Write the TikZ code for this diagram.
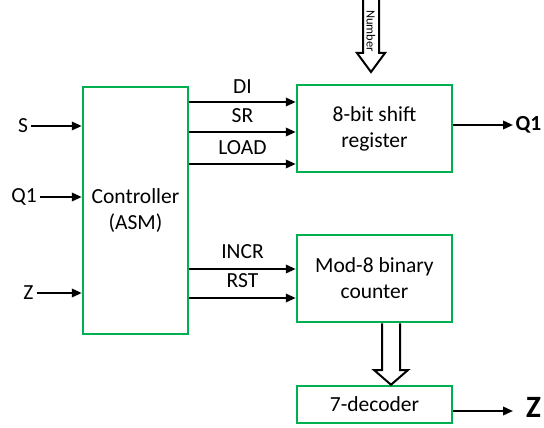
\documentclass[tikz,border=0pt]{standalone}
\usepackage{fontspec}
\setmainfont{Carlito}
\usetikzlibrary{arrows.meta}
\definecolor{boxgreen}{RGB}{0,176,80}

\begin{document}
\begin{tikzpicture}[x=1pt,y=-1pt,font=\fontsize{21.5}{26}\selectfont,
    blk/.style={draw=boxgreen,line width=2.5pt,inner sep=0pt,align=center},
    sig/.style={-{Triangle[length=10pt,width=8.5pt]},line width=2pt},
    fatarrow/.style={line width=2pt,line join=miter},
    lbl/.style={inner sep=0pt}]
  \useasboundingbox (0,0) rectangle (544,428);
  \node[blk,minimum width=105pt,minimum height=247pt] (ctrl) at (135.5,210.5) {Controller\\(ASM)};
  \node[blk,minimum width=155pt,minimum height=87pt] (sreg) at (374.5,128.5) {8-bit shift\\register};
  \node[blk,minimum width=155pt,minimum height=87pt] (cnt) at (374.5,278.5) {Mod-8 binary\\counter};
  \node[blk,minimum width=155pt,minimum height=37pt] (dec) at (374.5,404.5) {7-decoder};
  \foreach \x/\y/\t in {23/126/S,24/197/Q1,28.5/293/Z}{
    \node[lbl] (in\t) at (\x,\y) {\t};
    \draw[sig] ([xshift=3pt]in\t.east) -- (ctrl.west |- in\t);}
  \foreach \y/\t in {102/DI,132/SR,164/LOAD}
    \draw[sig] (ctrl.east |- 0,\y) -- (sreg.west |- 0,\y) node[lbl,midway,above=8pt] (l\t) {\t};
  \foreach \y/\t in {269/INCR,298/RST}
    \draw[sig] (ctrl.east |- 0,\y) -- (cnt.west |- 0,\y) node[lbl,midway,above=9pt] (l\t) {\t};
  \node[inner sep=2.5pt,font=\fontsize{21.5}{26}\selectfont\bfseries,anchor=west] (outQ) at (513,125) {Q1};
  \draw[sig] (sreg.east |- outQ) -- (outQ.west);
  \node[inner sep=0pt,font=\fontsize{31}{34}\selectfont\bfseries,anchor=west] (outZ) at (526,407) {Z};
  \draw[sig] (dec.east |- 0,411) -- ([xshift=-13pt]outZ.west |- 0,411);
  \draw[fatarrow] (363,-2) -- (363,53) -- (357,53) -- (371,72) -- (385,53) -- (379,53) -- (379,-2);
  \node[font=\fontsize{12.5}{14}\selectfont,rotate=-90,inner sep=0pt] (num) at (371,31) {Number};
  \draw[fatarrow] (cnt.south -| 382,0) -- (382,370) -- (374,370) -- (dec.north -| 391,0)
    -- (408,370) -- (400,370) -- (cnt.south -| 400,0);
\end{tikzpicture}
\end{document}
